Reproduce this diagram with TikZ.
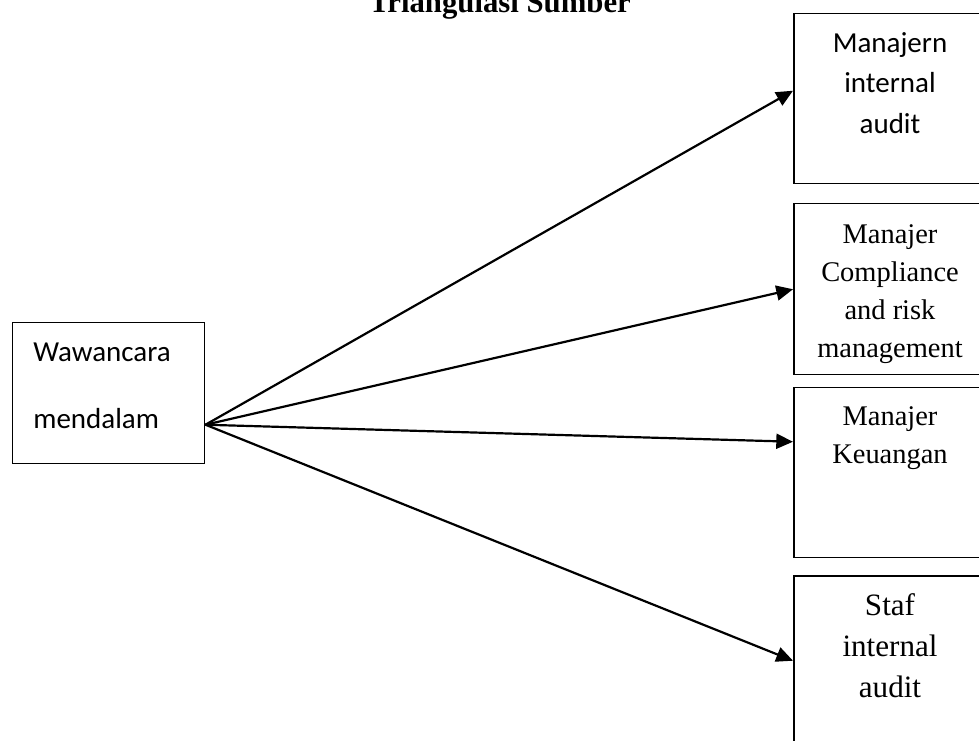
\documentclass[tikz,border=0pt]{standalone}
\usepackage{fontspec}
\setmainfont{Liberation Serif}
\newfontfamily\calibri{Carlito}
\usetikzlibrary{arrows.meta,positioning}
\definecolor{ink}{HTML}{000000}
\tikzset{
  box/.style={draw=ink, line width=0.85pt, rectangle, inner sep=0pt, anchor=north west},
  boxcal/.style={font=\calibri\fontsize{16.5}{23}\selectfont, text=ink, align=center, inner sep=0pt, anchor=base},
  boxrm/.style={font=\fontsize{16.2}{21.5}\selectfont, text=ink, align=center, inner sep=0pt, anchor=base},
  boxrmbig/.style={font=\fontsize{17.7}{23.3}\selectfont, text=ink, align=center, inner sep=0pt, anchor=base},
  title/.style={font=\fontsize{17.5}{21}\selectfont\bfseries, text=ink, inner sep=0pt, anchor=base},
  link/.style={draw=ink, line width=1.25pt, -{Triangle[length=9.5pt,width=8.5pt]}},
}
\begin{document}
\begin{tikzpicture}[x=0.02cm,y=-0.02cm, line join=miter]
\path[use as bounding box,clip] (0,0) rectangle (979,740);

\node[title] (ttl) at (500,13) {Triangulasi Sumber};

% source box
\node[box, minimum width=3.84cm, minimum height=2.82cm] (src) at (12,322) {};
\node[boxcal, anchor=base west, align=left,
      font=\calibri\fontsize{16.5}{38}\selectfont] (src-t) at (33,428) {Wawancara\\mendalam};

% target boxes (text placed by its last baseline)
\node[box, minimum width=3.88cm, minimum height=3.4cm] (audit) at (793,13) {};
\node[boxcal] (audit-t) at (890,133) {Manajern\\internal\\audit};

\node[box, minimum width=3.88cm, minimum height=3.42cm] (comp) at (793,203) {};
\node[boxrm] (comp-t) at (890,357) {Manajer\\Compliance\\and risk\\management};

\node[box, minimum width=3.88cm, minimum height=3.4cm] (keu) at (793,387) {};
\node[boxrm] (keu-t) at (890,463) {Manajer\\Keuangan};

\node[box, minimum width=3.88cm, minimum height=3.4cm] (staf) at (793,575) {};
\node[boxrmbig] (staf-t) at (890,697) {Staf\\internal\\audit};

\coordinate (fork) at ([yshift=-0.63cm]src.east);

\draw[link] (fork) -- ([yshift=0.16cm]audit.west);
\draw[link] (fork) -- (comp.west);
\draw[link] (fork) -- ([yshift=0.62cm]keu.west);
\draw[link] (fork) -- (staf.west);
\end{tikzpicture}
\end{document}
